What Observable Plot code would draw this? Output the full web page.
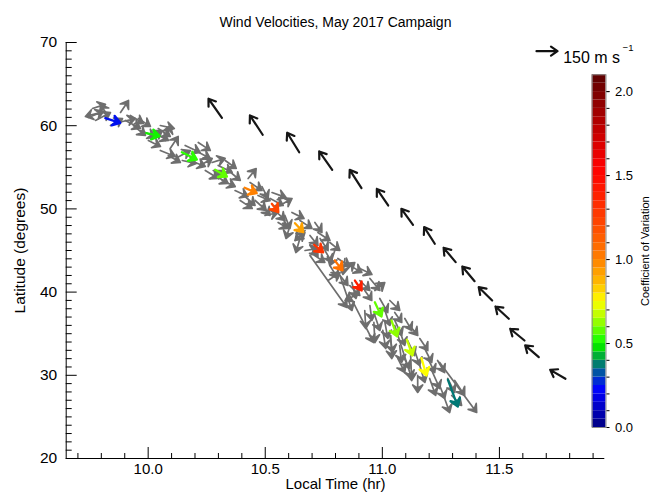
<!DOCTYPE html>
<html><head><meta charset="utf-8">
<script src="https://cdn.jsdelivr.net/npm/d3@7"></script>
<script src="https://cdn.jsdelivr.net/npm/@observablehq/plot@0.6"></script>
<style>
body{margin:0;background:#fff;}
#wrap{position:relative;width:650px;height:496px;font-family:"Liberation Sans",Arial,Helvetica,sans-serif;}
#wrap svg{position:absolute;}
</style></head><body><div id="wrap"></div>
<script>
// Individual (gray) wind vectors: local time (hr), latitude (deg), u east (m/s), v north (m/s)
const grayTime = [9.796,9.745,9.775,9.830,9.873,9.903,9.924,9.937,9.967,10.009,10.043,10.073,10.001,10.052,
  10.052,10.086,10.116,10.158,10.180,10.201,10.222,10.244,10.265,10.299,10.316,10.342,10.273,
  10.371,10.414,10.435,10.469,10.486,10.393,10.486,10.521,10.542,10.563,10.584,10.499,
  10.606,10.648,10.670,10.691,10.627,10.712,10.691,10.734,10.755,10.712,10.776,10.797,
  10.776,10.810,10.840,10.819,10.861,10.768,10.691,10.861,10.904,10.925,10.883,10.947,10.968,10.819,
  10.947,10.989,11.011,10.968,11.032,11.053,10.861,11.011,11.053,11.074,11.096,11.032,11.117,
  11.074,11.108,11.138,11.160,11.066,11.053,11.160,11.194,11.211,11.151,11.236,
  11.245,11.279,11.296,11.266,11.245,11.309,10.964,11.036,11.121,
  9.762,9.839,9.882,9.958,10.031,10.094,10.146,10.214,10.286,10.329,
  10.427,10.457,10.529,10.555,10.614,10.648,10.725,10.670,
  10.840,10.904,10.870,10.925,11.002,11.087,11.181,11.202];
const grayLat = [61.59,60.99,60.63,61.11,60.38,60.63,61.23,60.02,59.42,58.46,59.66,58.22,58.22,60.02,
  57.02,56.42,56.06,57.62,55.82,57.02,55.22,54.62,53.65,55.22,53.41,54.62,55.58,
  52.21,51.49,53.17,51.61,52.69,51.01,50.41,51.25,49.81,50.41,49.21,49.21,
  48.01,48.61,47.40,46.80,46.20,48.37,45.60,46.44,45.00,44.40,45.96,45.00,
  43.20,44.04,42.60,42.00,43.20,41.39,44.40,40.79,41.39,40.19,39.59,41.64,40.19,42.00,
  38.39,39.23,37.79,37.19,38.99,37.55,39.59,36.35,36.59,35.39,36.83,34.78,35.99,
  33.58,34.18,32.98,34.42,32.02,35.99,31.18,32.02,30.58,29.98,31.78,
  28.78,29.62,27.57,27.21,31.54,29.38,36.35,34.78,32.38,
  62.07,60.02,61.59,60.87,59.06,57.26,55.82,57.98,54.01,55.82,
  53.65,51.01,51.97,48.37,49.57,46.44,47.16,45.00,
  44.04,42.84,41.15,37.79,35.39,32.38,33.22,29.62];
const grayU = [-107,107,107,-57,121,107,93,86,107,86,86,36,86,100,
  107,86,107,107,107,107,86,93,86,100,93,86,93,
  93,71,86,86,43,86,57,93,71,86,36,93,
  -29,86,-71,57,71,50,57,57,50,71,71,-36,
  57,86,71,57,86,86,264,71,71,50,-71,71,71,86,
  14,57,36,36,71,50,171,21,50,36,50,21,57,
  14,50,36,57,50,121,36,50,57,0,50,
  36,50,71,36,264,71,7,7,7,
  93,86,57,86,93,57,100,86,93,79,
  57,79,100,71,86,-29,86,93,
  -14,86,29,7,21,50,50,43];
const grayV = [-29,43,57,86,29,-57,-57,-71,-43,57,-57,107,-43,-21,
  -43,-50,57,-50,-43,-57,50,-57,57,-50,-43,-71,29,
  -43,-64,-57,-36,-86,-57,-71,-50,-71,50,-93,21,
  -93,-57,-71,-71,57,-71,-79,-86,-86,-50,-57,-107,
  -93,-57,57,-71,-50,57,-371,-71,-71,-71,-36,-86,57,-250,
  -107,-100,-107,-107,-71,-71,-336,-114,-107,-107,-86,-121,-71,
  -121,-107,-107,-86,-100,-379,-121,-100,-129,-121,-86,
  -93,-100,-71,-100,-357,-107,-143,-164,-179,
  29,50,86,-57,-50,86,-21,-57,-57,-57,
  71,-71,-36,-43,-43,-100,-57,14,
  -114,-43,-114,-129,-129,-93,-100,-121];

// Bin-mean vectors, coloured by coefficient of variation
const meanTime = [9.817,9.992,10.144,10.286,10.412,10.528,10.627,10.709,10.797,10.883,10.968,11.039,11.105,11.167,11.280];
const meanLat  = [60.90,59.10,56.81,54.70,52.55,50.61,48.28,45.68,43.80,41.39,38.79,36.59,34.27,32.06,29.46];
const meanU    = [107,95,107,84,86,47,59,64,55,48,48,40,39,36,71];
const meanV    = [-33,-21,-52,-48,-39,-60,-64,-53,-71,-71,-102,-114,-112,-124,-191];
const meanCoV  = [0.24,0.50,0.53,0.58,1.00,1.22,0.92,1.30,1.05,1.38,0.58,0.62,0.68,0.75,0.37];

// Black vectors (offset track)
const refTime = [10.315,10.489,10.645,10.786,10.911,11.025,11.131,11.224,11.313,11.394,11.469,11.540,11.607,11.668,11.782];
const refLat  = [60.95,58.91,56.81,54.70,52.49,50.41,48.09,45.81,43.60,41.31,38.99,36.79,34.18,32.18,29.58];
const refU    = [-96,-91,-86,-93,-84,-81,-83,-76,-86,-88,-96,-95,-102,-97,-109];
const refV    = [136,138,139,131,131,118,114,119,103,105,95,88,84,84,64];

const keySpeed = [150];
const xMajorTicks = [10.0, 10.5, 11.0, 11.5];
const xMinorTicks = [9.7,9.8,9.9,10.1,10.2,10.3,10.4,10.6,10.7,10.8,10.9,11.1,11.2,11.3,11.4,11.6,11.7,11.8,11.9];
const yMajorTicks = [20, 30, 40, 50, 60, 70];
const yMinorTicks = d3.range(21, 70).filter(d => d % 10 !== 0);
const cbMajorTicks = [0.0, 0.5, 1.0, 1.5, 2.0];
const cbMinorTicks = d3.range(1, 21).map(d => d / 10);

// colour map stops (styling)
const cStops = [0.00,0.12,0.22,0.30,0.38,0.47,0.52,0.65,0.75,0.85,1.00,1.20,1.45,1.55,1.75,2.10];
const cCols  = ["#00007f","#0000c8","#0000ff","#0040c0","#00806a","#00e000","#20ff00","#b0ff00","#ffff00","#ffc000","#ff8000","#ff4a00","#ff1000","#ff0000","#c80000","#5a0000"];
const cmap = d3.scaleLinear().domain(cStops).range(cCols).interpolate(d3.interpolateRgb).clamp(true);
const cMax = 2.1;
const colorOpts = {type: "linear", domain: [0, cMax], interpolate: t => cmap(t * cMax)};

const gray = grayTime.map((t, i) => ({t, lat: grayLat[i], u: grayU[i], v: grayV[i]}));
const means = meanTime.map((t, i) => ({t, lat: meanLat[i], u: meanU[i], v: meanV[i], cov: meanCoV[i]}));
const refs = refTime.map((t, i) => ({t, lat: refLat[i], u: refU[i], v: refV[i]}));

const spd = d => Math.hypot(d.u, d.v);
const dir = d => Math.atan2(d.u, d.v) * 180 / Math.PI;

const filledHead = {
  draw(ctx, l) {
    const h = 7.5, w = 5, n = 4.2;
    ctx.moveTo(0, 0); ctx.lineTo(0, -l + n);
    ctx.moveTo(0, -l); ctx.lineTo(-w, -l + h); ctx.lineTo(0, -l + n); ctx.lineTo(w, -l + h); ctx.closePath();
  }
};
const openHead = {
  draw(ctx, l) {
    const h = 6.5, w = 4.5;
    ctx.moveTo(0, 0); ctx.lineTo(0, -l);
    ctx.moveTo(-w, -l + h); ctx.lineTo(0, -l); ctx.lineTo(w, -l + h);
  }
};

const W = 650, H = 496, mL = 65.7, mR = 45.7, mT = 42, mB = 38;
const fw = W - mL - mR, fh = H - mT - mB;
const font = '"Liberation Sans", Arial, Helvetica, sans-serif';

const main = Plot.plot({
  width: W, height: H, marginLeft: mL, marginRight: mR, marginTop: mT, marginBottom: mB,
  style: {fontFamily: font, fontSize: "15px", color: "black", background: "transparent"},
  x: {domain: [9.65, 11.95], label: null, axis: null},
  y: {domain: [20, 70], label: null, axis: null},
  length: {type: "linear", domain: [0, 150], range: [0, 21]},
  color: colorOpts,
  marks: [
    Plot.vector(gray, {x: "t", y: "lat", length: spd, rotate: dir, anchor: "start", shape: filledHead,
      stroke: "#6e6e6e", fill: "#6e6e6e", strokeWidth: 1.7}),
    Plot.vector(means, {x: "t", y: "lat", length: spd, rotate: dir, anchor: "start", shape: filledHead,
      stroke: "cov", fill: "cov", strokeWidth: 2.3}),
    Plot.vector(refs, {x: "t", y: "lat", length: spd, rotate: dir, anchor: "start", shape: openHead,
      stroke: "#161616", strokeWidth: 2.2}),
    Plot.ruleX([9.65], {stroke: "black"}),
    Plot.ruleY([20], {stroke: "black"}),
    Plot.tickX(xMinorTicks, {x: d => d, insetTop: fh - 5, stroke: "black"}),
    Plot.tickX(xMajorTicks, {x: d => d, insetTop: fh - 11, stroke: "black"}),
    Plot.tickY(yMinorTicks, {y: d => d, insetRight: fw - 6, stroke: "black"}),
    Plot.tickY(yMajorTicks, {y: d => d, insetRight: fw - 11, stroke: "black"}),
    Plot.axisX({ticks: xMajorTicks, tickSize: 0, tickPadding: 5, tickFormat: ".1f", fontSize: 15}),
    Plot.axisY({ticks: yMajorTicks, tickSize: 0, tickPadding: 9, tickFormat: "d", fontSize: 15.5}),
    Plot.text(["Local Time (hr)"], {frameAnchor: "bottom", textAnchor: "middle", dy: 30.5, fontSize: 15}),
    Plot.text(["Latitude (degrees)"], {frameAnchor: "left", textAnchor: "middle", dx: -46, rotate: -90, fontSize: 15.5}),
    Plot.text(["Wind Velocities, May 2017 Campaign"], {frameAnchor: "top", textAnchor: "middle", dy: -25, fontSize: 14}),
    Plot.vector(keySpeed, {frameAnchor: "top-right", length: d => d, rotate: 90, anchor: "start",
      dx: -68.3, dy: 8.7, shape: openHead, stroke: "#111", strokeWidth: 2.2}),
    Plot.text(["150 m s"], {frameAnchor: "top-right", textAnchor: "start", dx: -41.6, dy: 9, fontSize: 16}),
    Plot.text(["\u22121"], {frameAnchor: "top-right", textAnchor: "start", dx: 17.8, dy: 1.5, fontSize: 9.5})
  ]
});

const cbTop = 60;
const cb = Plot.plot({
  width: 90, height: 390, marginLeft: 31.7, marginRight: 44.5, marginTop: 74.3 - cbTop, marginBottom: 390 - (427 - cbTop),
  style: {fontFamily: font, fontSize: "13px", color: "black", background: "transparent"},
  x: {domain: [0, 1], axis: null},
  y: {domain: [0, cMax], axis: null},
  color: colorOpts,
  marks: [
    Plot.rect(d3.range(0, 42), {x1: () => 0, x2: () => 1, y1: d => d * 0.05, y2: d => Math.min(cMax, (d + 1) * 0.05), fill: d => d * 0.05 + 0.025}),
    Plot.frame({stroke: "#8a8a8a"}),
    Plot.axisY({anchor: "right", ticks: cbMinorTicks, tickSize: 3, tickFormat: () => ""}),
    Plot.axisY({anchor: "right", ticks: cbMajorTicks, tickSize: 3, tickPadding: 6, tickFormat: ".1f", fontSize: 13}),
    Plot.text(["Coefficient of Variation"], {frameAnchor: "right", textAnchor: "middle", dx: 39.5, dy: 0, rotate: -90, fontSize: 11})
  ]
});

const wrap = document.getElementById("wrap");
main.style.left = "0px"; main.style.top = "0px";
cb.style.left = "560px"; cb.style.top = cbTop + "px";
wrap.appendChild(main);
wrap.appendChild(cb);
</script>
</body></html>
